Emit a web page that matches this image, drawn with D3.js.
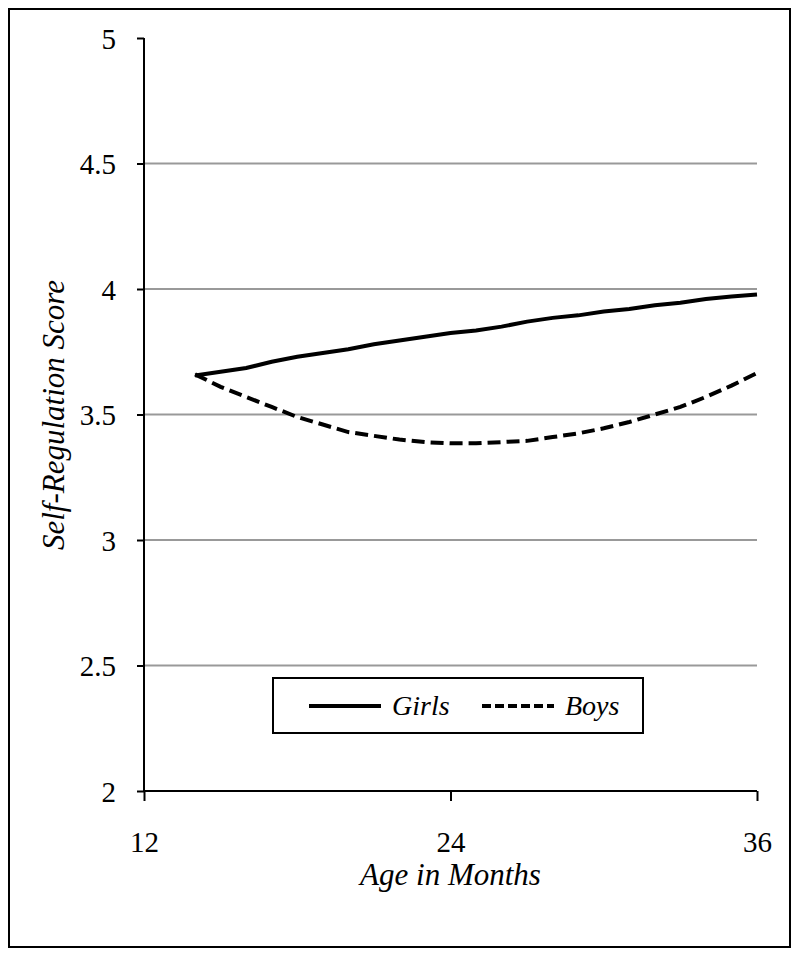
<!DOCTYPE html>
<html>
<head>
<meta charset="utf-8">
<script src="https://cdn.jsdelivr.net/npm/d3@7"></script>
</head>
<body style="margin:0">
<script>
// Self-regulation growth curves
const months = [14, 15, 16, 17, 18, 19, 20, 21, 22, 23, 24, 25, 26, 27, 28, 29, 30, 31, 32, 33, 34, 35, 36];
const girls = [3.655, 3.67, 3.685, 3.71, 3.73, 3.745, 3.76, 3.78, 3.795, 3.81, 3.825, 3.835, 3.85, 3.87, 3.885, 3.895, 3.91, 3.92, 3.935, 3.945, 3.96, 3.97, 3.978];
const boys = [3.66, 3.61, 3.57, 3.53, 3.49, 3.46, 3.43, 3.415, 3.40, 3.39, 3.385, 3.385, 3.39, 3.395, 3.41, 3.425, 3.445, 3.47, 3.50, 3.53, 3.57, 3.615, 3.665];
const yTicks = [2, 2.5, 3, 3.5, 4, 4.5, 5];
const xTicks = [12, 24, 36];

const width = 800;
const height = 957;
const margin = {left: 144, right: 43, top: 38, bottom: 166};
const serif = "Liberation Serif";

const svg = d3.select("body")
  .append("svg")
  .attr("width", width)
  .attr("height", height);

// outer frame
svg.append("rect")
  .attr("x", 9).attr("y", 9)
  .attr("width", 781).attr("height", 938)
  .attr("fill", "none")
  .attr("stroke", "#000")
  .attr("stroke-width", 2);

const x = d3.scaleLinear()
  .domain([12, 36])
  .range([margin.left, width - margin.right]);

const y = d3.scaleLinear()
  .domain([2, 5])
  .range([height - margin.bottom, margin.top]);

// gridlines
svg.append("g")
  .selectAll("line")
  .data(yTicks.filter(d => d > 2 && d < 5))
  .enter()
  .append("line")
    .attr("x1", x(12)).attr("x2", x(36))
    .attr("y1", d => y(d)).attr("y2", d => y(d))
    .attr("stroke", "#999")
    .attr("stroke-width", 2);

// y axis
const yAxis = svg.append("g")
  .attr("transform", `translate(${x(12)},0)`)
  .call(d3.axisLeft(y).tickValues(yTicks).tickSize(7).tickPadding(21).tickFormat(d3.format("")))
  .attr("font-family", serif)
  .attr("font-size", 29);
yAxis.select(".domain").attr("stroke-width", 2).attr("d", `M0,${y(5)}V${y(2)}`);
yAxis.selectAll(".tick line").attr("stroke-width", 2);
yAxis.selectAll("text").attr("fill", "#000").attr("dy", "0.36em");

// x axis
const xAxis = svg.append("g")
  .attr("transform", `translate(0,${y(2)})`)
  .call(d3.axisBottom(x).tickValues(xTicks).tickSize(10).tickPadding(30))
  .attr("font-family", serif)
  .attr("font-size", 29);
xAxis.select(".domain").attr("stroke-width", 2).attr("d", `M${x(12)},0H${x(36)}`);
xAxis.selectAll(".tick line").attr("stroke-width", 2);
xAxis.selectAll("text").attr("fill", "#000");

// axis titles
svg.append("text")
  .attr("x", x(24))
  .attr("y", 885)
  .attr("text-anchor", "middle")
  .attr("font-family", serif)
  .attr("font-size", 31)
  .attr("font-style", "italic")
  .text("Age in Months");

svg.append("text")
  .attr("transform", "translate(64,415) rotate(-90)")
  .attr("text-anchor", "middle")
  .attr("font-family", serif)
  .attr("font-size", 31)
  .attr("font-style", "italic")
  .text("Self-Regulation Score");

// lines
const line = d3.line()
  .x((d, i) => x(months[i]))
  .y(d => y(d));

svg.append("path")
  .datum(boys)
  .attr("d", line)
  .attr("fill", "none")
  .attr("stroke", "#000")
  .attr("stroke-width", 4)
  .attr("stroke-dasharray", "13,6");

svg.append("path")
  .datum(girls)
  .attr("d", line)
  .attr("fill", "none")
  .attr("stroke", "#000")
  .attr("stroke-width", 4);

// legend
const legend = svg.append("g");
legend.append("rect")
  .attr("x", 273).attr("y", 678)
  .attr("width", 370).attr("height", 55)
  .attr("fill", "#fff")
  .attr("stroke", "#000")
  .attr("stroke-width", 2);

const legendItems = [
  {name: "Girls", x: 309, dash: null},
  {name: "Boys", x: 482, dash: "9,4"}
];
legendItems.forEach(item => {
  legend.append("line")
    .attr("x1", item.x).attr("x2", item.x + 72)
    .attr("y1", 706).attr("y2", 706)
    .attr("stroke", "#000")
    .attr("stroke-width", 4)
    .attr("stroke-dasharray", item.dash);
  legend.append("text")
    .attr("x", item.x + 83)
    .attr("y", 715)
    .attr("font-family", serif)
    .attr("font-size", 28)
    .attr("font-style", "italic")
    .text(item.name);
});
</script>
</body>
</html>
